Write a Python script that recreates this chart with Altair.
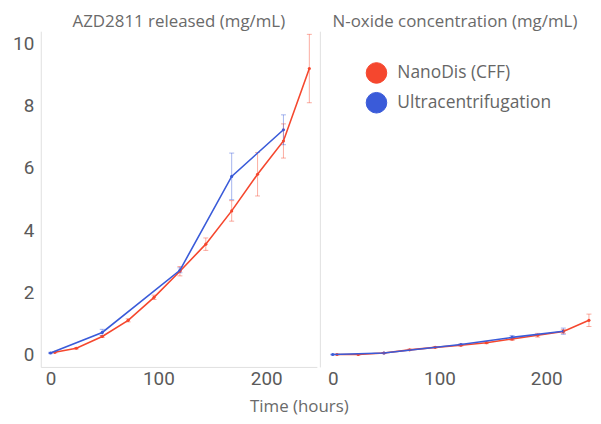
import altair as alt
import pandas as pd

series_names = ["NanoDis (CFF)", "Ultracentrifugation"]
series_colors = ["#f5472e", "#3a5bd9"]

cff_time = [4, 24, 48, 72, 96, 120, 144, 168, 192, 216, 240]
cff_azd = [0.07, 0.2, 0.58, 1.1, 1.84, 2.68, 3.55, 4.62, 5.8, 6.87, 9.2]
cff_azd_err = [0.02, 0.02, 0.03, 0.05, 0.07, 0.15, 0.2, 0.33, 0.7, 0.55, 1.1]
cff_nox = [0.0, 0.0, 0.05, 0.15, 0.23, 0.3, 0.38, 0.5, 0.62, 0.74, 1.1]
cff_nox_err = [0.01, 0.01, 0.01, 0.02, 0.02, 0.03, 0.03, 0.05, 0.06, 0.06, 0.2]

uc_time = [0, 48, 120, 168, 216]
uc_azd = [0.05, 0.71, 2.71, 5.73, 7.23]
uc_azd_err = [0.02, 0.1, 0.08, 0.75, 0.48]
uc_nox = [0.0, 0.05, 0.32, 0.55, 0.75]
uc_nox_err = [0.01, 0.01, 0.02, 0.06, 0.1]

x_ticks = [0, 100, 200]
y_ticks = [0, 2, 4, 6, 8, 10]

legend_spec = alt.Legend(title=None, orient="none", legendX=327, legendY=31,
                         symbolType="circle", symbolSize=430, symbolStrokeWidth=1,
                         symbolOpacity=1, labelFont="Open Sans", labelFontSize=17.5,
                         labelColor="#666666", rowPadding=4, labelOffset=10)


def frame(cff_vals, cff_err, uc_vals, uc_err):
    rows = []
    for t, v, e in zip(cff_time, cff_vals, cff_err):
        rows.append({"time": t, "value": v, "lo": v - e, "hi": v + e, "series": series_names[0]})
    for t, v, e in zip(uc_time, uc_vals, uc_err):
        rows.append({"time": t, "value": v, "lo": v - e, "hi": v + e, "series": series_names[1]})
    return pd.DataFrame(rows)


def panel(df, title, xdom, left, width):
    xaxis = alt.Axis(values=x_ticks, title=None, grid=False, ticks=False,
                     domain=left, domainColor="#e0e0e0", labelFont="Roboto",
                     labelFontSize=19, labelColor="#5a5a5a", labelPadding=3)
    yaxis = alt.Axis(values=y_ticks, title=None, grid=False, ticks=False,
                     labels=left, domain=True, domainColor="#e0e0e0",
                     labelFont="Roboto", labelFontSize=19, labelColor="#5a5a5a",
                     labelPadding=7)
    xs = alt.Scale(domain=xdom, nice=False, zero=False)
    ys = alt.Scale(domain=[-0.4, 10.4], nice=False, zero=False)
    cs = alt.Scale(domain=series_names, range=series_colors)

    def X():
        return alt.X("time:Q", scale=xs, axis=xaxis)

    def Y(f):
        return alt.Y(f"{f}:Q", scale=ys, axis=yaxis)

    def C():
        return alt.Color("series:N", scale=cs, legend=legend_spec)

    base = alt.Chart(df)
    pts = base.mark_point(filled=True, size=10, opacity=1).encode(
        x=X(), y=Y("value"), color=C())
    err = base.mark_rule(strokeWidth=1, opacity=0.45).encode(
        x=X(), y=Y("lo"), y2="hi:Q", color=C())
    cap_lo = base.mark_tick(orient="horizontal", size=5, thickness=1, opacity=0.45).encode(
        x=X(), y=Y("lo"), color=C())
    cap_hi = base.mark_tick(orient="horizontal", size=5, thickness=1, opacity=0.45).encode(
        x=X(), y=Y("hi"), color=C())
    line = base.mark_line(strokeWidth=1.6).encode(
        x=X(), y=Y("value"), color=C(), order="time:Q")
    return alt.layer(pts, err, cap_lo, cap_hi, line).properties(
        width=width, height=338,
        title=alt.TitleParams(title, font="Open Sans", fontSize=17, fontWeight="normal",
                              color="#6a6a6a", anchor="middle", offset=0))


left_df = frame(cff_azd, cff_azd_err, uc_azd, uc_azd_err)
right_df = frame(cff_nox, cff_nox_err, uc_nox, uc_nox_err)

left = panel(left_df, "AZD2811 released (mg/mL)", [-9, 247], True, 278)
right = panel(right_df, "N-oxide concentration (mg/mL)", [-12, 241], False, 272)

chart = alt.hconcat(left, right, spacing=3).properties(
    title=alt.TitleParams("Time (hours)", orient="bottom", anchor="middle",
                          font="Open Sans", fontSize=17, fontWeight="normal",
                          color="#6a6a6a", offset=10, dx=-3),
    padding={"left": 4, "top": 4, "right": 0, "bottom": 0},
).configure_view(stroke=None)

chart.save("out.html", embed_options={"renderer": "svg", "actions": False})
